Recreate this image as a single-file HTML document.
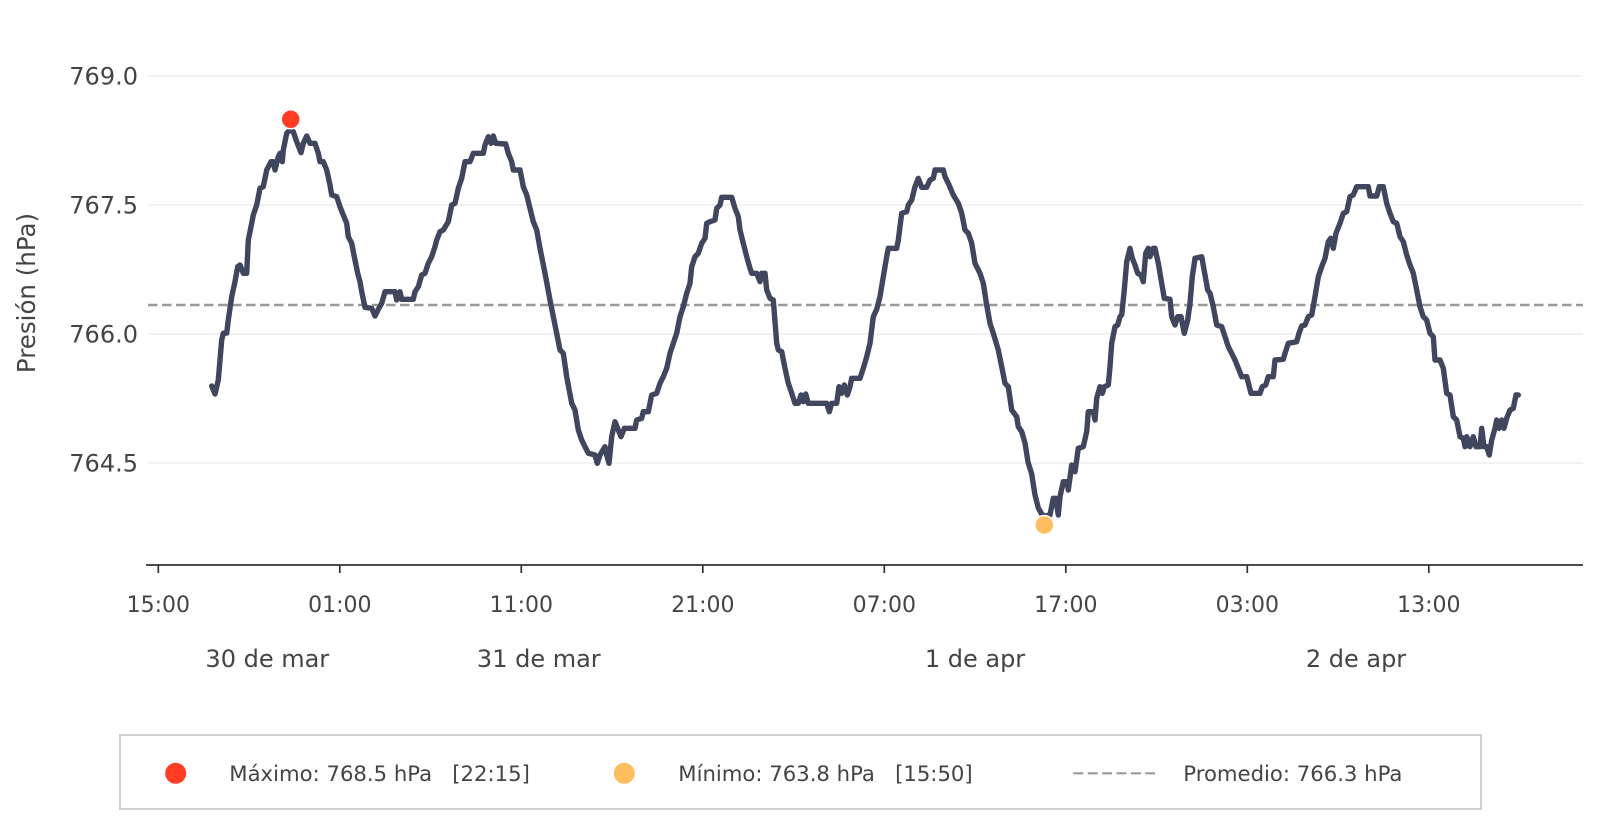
<!DOCTYPE html>
<html>
<head>
<meta charset="utf-8">
<style>
  html, body { margin: 0; padding: 0; background: #ffffff; }
  body { width: 1601px; height: 828px; overflow: hidden; }
  svg { display: block; font-family: "DejaVu Sans", "Liberation Sans", sans-serif; }
</style>
</head>
<body>
<svg width="1601" height="828" viewBox="0 0 1601 828" xmlns="http://www.w3.org/2000/svg">
  <rect x="0" y="0" width="1601" height="828" fill="#ffffff"/>

  <!-- gridlines -->
  <g stroke="#ebebeb" stroke-width="1.3">
    <line x1="148" y1="76" x2="1583" y2="76"/>
    <line x1="148" y1="205" x2="1583" y2="205"/>
    <line x1="148" y1="334" x2="1583" y2="334"/>
    <line x1="148" y1="463" x2="1583" y2="463"/>
  </g>

  <!-- y tick labels -->
  <g font-size="24" fill="#444" text-anchor="end">
    <text x="138" y="84.7">769.0</text>
    <text x="138" y="213.7">767.5</text>
    <text x="138" y="342.7">766.0</text>
    <text x="138" y="471.7">764.5</text>
  </g>

  <!-- y axis label -->
  <text transform="translate(35,293) rotate(-90)" font-size="24.5" fill="#444" text-anchor="middle">Presión (hPa)</text>

  <!-- average dashed line -->
  <line x1="148" y1="305" x2="1583" y2="305" stroke="#999" stroke-width="2.4" stroke-dasharray="9.5 4.5"/>

  <!-- series -->
  <polyline fill="none" stroke="#3f465e" stroke-width="5.4" stroke-linejoin="round" stroke-linecap="round" points="
211.7,386 215,394 218.3,380 221.7,340 223.3,333.3 226.7,333 228.3,320 231.7,296.7 235,281.7 237.7,266.7 240,265 243.3,273.3 246.7,273.3 248.3,240 250,231.7 253.3,215 256.7,205 260,188.3 263.3,186.7 266.7,170 271,161.7 273.3,161.7 275,170 278.3,156.7 280,153.3 282.3,161.7 283.3,150 286.7,133.3 290,130 293.3,131.7 296.7,141.7 301,152.7 303.3,143.3 306.7,136 310,143.3 315,143.3 318.3,153.3 320,161.7 323.3,161.7 326.7,170 330,185 331.7,195 336.7,196.7 340,206.7 343.3,215 346.7,223.3 348.3,236.7 351.7,243.3 354.3,256.7 357.7,273.3 360,281.7 361.7,291.7 365,307.3 371.7,308.3 375,316 378.3,309.3 381.7,303.3 385,291.7 395,291.7 396.7,300 400,291.7 401.7,299.3 413.3,299.3 415,291.7 418.3,286.7 421.7,275 425,273.3 428.3,263.3 431.7,256.7 435,246.7 436.7,240 440,231.7 443.3,230 448.3,221.7 451.7,205 455,203.3 458.3,188.3 461.7,178.3 465,161.7 470,161.7 473.3,153.3
483.3,153.3 485,145 488.3,136.7 491,143.3 493.3,136 495.7,143.3 505.7,144 508.3,153.3 511.7,161.7 513.3,170 520,170 521.7,178.3 523.3,186.7 526.7,195 530,208.3 533.3,221.7 536.7,230 540,248.3 545,273.3 550,300 553.3,316.7 556.7,333.3 560,350 563.3,353.3 566.7,376.7 571.7,403.3 575,410 578.3,430 581.7,440 585,446.7 588.3,453.3 595,455 597.3,463.3 600,455 605,446.7 606.7,455 609,463.3 611.7,436.7 615,421.7 618.3,430 621,436.7 624.3,428.3 635,428.3 636.7,420 641.7,418.3 643.3,411.7 648.3,411.7 651.7,395 656.7,393.3 660,383.3 663.3,376.7 666.7,368.3 670,353.3 673.3,343.3 676.7,333.3 680,316.7 683.3,306.7 686.7,293.3 690,283.3 691.7,266.7 695,256.7 698.3,253.3 701.7,243.3 705,238.3 706.7,223.3 710,221.7 715,220 716.7,208.3 720,205 721.7,197.3 731.7,197.3 735,208.3
738.3,216.7 740,230 743.3,243.3 746.7,256.7 750,268.3 751.7,273.3 756.7,273.3 760,281.7 761.7,273.3 765,273.3 766.7,290 770,298.3 773.3,300 776.7,343.3 778.3,350 781.7,351.7 785,368.3 788.3,383.3 791.7,393.3 795,403.3 798.3,403.3 801,395 803.3,401.7 805.7,394 808.3,403.3 826.7,403.3 829.3,411.7 831.7,403.3 836.7,403.3 839,386.7 841.7,393.3 844.3,385 847.3,395 850,386.7 851.7,378.3 860,378.3 863.3,368.3 866.7,356.7 870,343.3 873.3,316.7 876.7,309.3 880,296.7 883.3,276.7 886.7,256.7 888.3,248.3 896.7,248.3 898.3,240 901.7,213.3 906.7,211.7 908.3,205 911.7,200 915,186.7 918.3,178.3 921.7,187.3 926.7,187.3 930,180 933.3,178.3 935,170 943.3,170 945,176.7 948.3,183.3 953.3,195 958.3,203.3 961.7,213.3 965,230 968.3,233.3 971.7,243.3 975,263.3 980,273.3 983.3,283.3 986.7,305 990,323.3 993.3,333.3 998.3,350 1001.7,366.7 1005,383.3 1008.3,386.7 1011.7,410 1016.7,416.7 1018.3,426.7 1021.7,431.7 1025,443 1028,462 1031.7,474 1035,495 1038.3,508 1041.7,514
1044,516 1050,515 1053.3,498.3 1055.7,498.3 1058.3,515 1060,496.7 1063.3,481.7 1066.7,481.7 1068.3,490 1071.7,465 1075,471.7 1078.3,448.3 1083.3,446.7 1086.7,431.7 1088.3,411.7 1093.3,411.7 1095,420 1096.7,398.3 1100,386.7 1102.3,393.3 1104.3,386.7 1108.3,385 1110,366.7 1111.7,343.3 1115,326.7 1117.7,325 1120,316.7 1121.7,315 1124.3,290 1126.7,261.7 1130,248.3 1132.3,258.3 1135,265 1137.7,273.3 1141,275 1143.3,281.7 1145.7,253.3 1148.3,248.3 1150,256.7 1153.3,248.3 1155,248.3 1158.3,263.3 1161.7,283.3 1164.3,298.3 1170,299.3 1171.7,316.7 1175,325 1177.7,316.7 1181,316.7 1184.3,333.3 1187.7,320 1190,303.3 1192.3,276.7 1195,258.3 1201.7,256.7 1205,275 1207.7,290 1210,293.3 1213.3,306.7 1216.7,325 1221.7,326.7 1225,336.7 1228.3,346.7 1231.7,353.3 1235,360 1238.3,368.3 1241.7,376.7 1246.7,376.7 1251,393.3 1260,393.3 1262.3,386.7 1265.7,385 1268.3,376.7 1273.3,376.7 1275,360 1283.3,359.3 1285,353.3 1288.3,343.3 1296.7,341.7 1299,333.3 1301.7,326
1305,325 1308.3,316.7 1311.7,315 1315,296.7 1318.3,276.7 1321.7,266.7 1325,258.3 1328.3,241.7 1330.7,238.3 1333.3,248.3 1336,233.3 1340,223.3 1343.3,213.3 1346.7,211.7 1350,196.7 1353.3,195 1356.7,186.7 1368.3,186.7 1370,196 1376.7,196 1379.3,186.7 1383.3,186.7 1386.7,203.3 1390,213.3 1393.3,221.7 1396.7,223.3 1400,236.7 1403.3,241.7 1406.7,255 1410,265 1413.3,273.3 1416.7,290 1420,306.7 1423.3,316.7 1426.7,320 1430,333.3 1433.3,336.7 1435,360 1440,360 1443.3,368.3 1446.7,393.3 1450,395 1453.3,416.7 1456.7,420 1460,436.7 1463.3,438.3 1465,446.7 1466.7,436.7 1470,446.7 1473.3,436.7 1476,446.7 1480,446.7 1481.7,428.3 1484,446.7 1486.7,446.7 1489.3,455 1491.7,440 1495,428.3 1496.7,420 1499.3,428.3 1501.7,420 1504,428.3 1506.7,418.3 1510,410 1513.3,408.3 1516,395 1518.3,395"/>

  <!-- markers -->
  <circle cx="290.7" cy="119.3" r="9.5" fill="#ff3d22" stroke="#ffffff" stroke-width="1.5"/>
  <circle cx="1044.3" cy="525" r="9.5" fill="#fdbe5f" stroke="#ffffff" stroke-width="1.5"/>

  <!-- x axis -->
  <line x1="146" y1="565" x2="1583" y2="565" stroke="#333" stroke-width="1.7"/>
  <g stroke="#333" stroke-width="1.7">
    <line x1="158.3" y1="565" x2="158.3" y2="573"/>
    <line x1="339.8" y1="565" x2="339.8" y2="573"/>
    <line x1="521.3" y1="565" x2="521.3" y2="573"/>
    <line x1="702.8" y1="565" x2="702.8" y2="573"/>
    <line x1="884.3" y1="565" x2="884.3" y2="573"/>
    <line x1="1065.8" y1="565" x2="1065.8" y2="573"/>
    <line x1="1247.3" y1="565" x2="1247.3" y2="573"/>
    <line x1="1428.8" y1="565" x2="1428.8" y2="573"/>
  </g>

  <!-- x tick labels -->
  <g font-size="22" fill="#444" text-anchor="middle">
    <text x="158.3" y="612">15:00</text>
    <text x="339.8" y="612">01:00</text>
    <text x="521.3" y="612">11:00</text>
    <text x="702.8" y="612">21:00</text>
    <text x="884.3" y="612">07:00</text>
    <text x="1065.8" y="612">17:00</text>
    <text x="1247.3" y="612">03:00</text>
    <text x="1428.8" y="612">13:00</text>
  </g>

  <!-- date labels -->
  <g font-size="24" fill="#444" text-anchor="middle">
    <text x="267.3" y="667">30 de mar</text>
    <text x="538.8" y="667">31 de mar</text>
    <text x="975" y="667">1 de apr</text>
    <text x="1356" y="667">2 de apr</text>
  </g>

  <!-- legend -->
  <rect x="120" y="735" width="1361" height="74" fill="#ffffff" stroke="#d0d0d0" stroke-width="2"/>
  <circle cx="175.7" cy="773.3" r="10.5" fill="#ff3d22"/>
  <text x="229.3" y="780.8" font-size="21.2" fill="#444" xml:space="preserve">Máximo: 768.5 hPa   [22:15]</text>
  <circle cx="624.3" cy="773.3" r="10.5" fill="#fdbe5f"/>
  <text x="678.3" y="780.8" font-size="21.2" fill="#444" xml:space="preserve">Mínimo: 763.8 hPa   [15:50]</text>
  <line x1="1073.3" y1="773.3" x2="1155" y2="773.3" stroke="#999" stroke-width="2.2" stroke-dasharray="10 4.4"/>
  <text x="1183.3" y="780.8" font-size="21.2" fill="#444">Promedio: 766.3 hPa</text>
</svg>
</body>
</html>
